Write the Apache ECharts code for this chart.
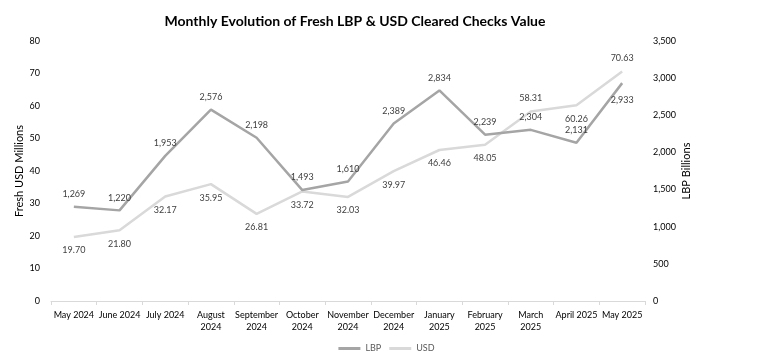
<!DOCTYPE html>
<html><head><meta charset="utf-8">
<script src="https://cdn.jsdelivr.net/npm/echarts@6/dist/echarts.min.js"></script>
<style>html,body{margin:0;padding:0;background:#fff}#c{width:773px;height:355px}</style>
</head><body><div id="c"></div>
<script>
const categories = ['May 2024','June 2024','July 2024','August\n2024','September\n2024','October\n2024','November\n2024','December\n2024','January\n2025','February\n2025','March\n2025','April 2025','May 2025'];
const lbpValues = [1269, 1220, 1953, 2576, 2198, 1493, 1610, 2389, 2834, 2239, 2304, 2131, 2933];
const usdValues = [19.70, 21.80, 32.17, 35.95, 26.81, 33.72, 32.03, 39.97, 46.46, 48.05, 58.31, 60.26, 70.63];
const leftTicks = {min: 0, max: 80, interval: 10};
const rightTicks = {min: 0, max: 3500, interval: 500};

// label placement overrides (style only)
const lbpLabelPos = {12: 'bottom'};
const usdLabelPos = {10: 'top', 12: 'top'};

const fontFam = 'Lato, "Open Sans", sans-serif';
const fmt = v => v.toLocaleString('en-US');

const chart = echarts.init(document.getElementById('c'), null, {renderer: 'canvas'});
chart.setOption({
  animation: false,
  textStyle: {fontFamily: fontFam},
  title: {
    text: 'Monthly Evolution of Fresh LBP & USD Cleared Checks Value',
    left: 350, top: 9, textAlign: 'center',
    textStyle: {fontFamily: fontFam, fontSize: 14, fontWeight: 'bold', color: '#000'}
  },
  grid: {left: 51, right: 128, top: 41, bottom: 54, containLabel: false},
  legend: {
    bottom: -3, left: 'center', itemGap: 8, itemWidth: 22, itemHeight: 3,
    textStyle: {fontSize: 9, color: '#595959', fontFamily: fontFam},
    data: [{name: 'LBP', icon: 'rect'}, {name: 'USD', icon: 'rect'}]
  },
  xAxis: {
    type: 'category', data: categories, boundaryGap: true,
    axisLine: {lineStyle: {color: '#D9D9D9', width: 1}},
    axisTick: {show: true, alignWithLabel: false, length: 4, lineStyle: {color: '#D9D9D9'}},
    axisLabel: {interval: 0, fontSize: 9, color: '#000', lineHeight: 12, margin: 8, fontFamily: fontFam}
  },
  yAxis: [
    {
      type: 'value', min: leftTicks.min, max: leftTicks.max, interval: leftTicks.interval,
      name: 'Fresh USD Millions', nameLocation: 'middle', nameGap: 26, nameRotate: 90,
      nameMoveOverlap: false,
      nameTextStyle: {fontSize: 11, color: '#000', fontFamily: fontFam},
      axisLine: {show: false}, axisTick: {show: false}, splitLine: {show: false},
      axisLabel: {fontSize: 9, color: '#000', margin: 11, fontFamily: fontFam}
    },
    {
      type: 'value', min: rightTicks.min, max: rightTicks.max, interval: rightTicks.interval,
      name: 'LBP Billions', nameLocation: 'middle', nameGap: 36, nameRotate: 90,
      nameMoveOverlap: false,
      nameTextStyle: {fontSize: 11, color: '#000', fontFamily: fontFam},
      axisLine: {show: false}, axisTick: {show: false}, splitLine: {show: false},
      axisLabel: {fontSize: 9, color: '#000', margin: 8, formatter: fmt, fontFamily: fontFam}
    }
  ],
  series: [
    {
      name: 'LBP', type: 'line', yAxisIndex: 1, showSymbol: true, symbol: 'circle', symbolSize: 0,
      lineStyle: {color: '#A5A5A5', width: 2.5}, itemStyle: {color: '#A5A5A5'},
      data: lbpValues.map((v, i) => ({
        value: v,
        label: {show: true, position: lbpLabelPos[i] || 'top', distance: lbpLabelPos[i] ? 12 : 8}
      })),
      label: {show: true, fontSize: 9, color: '#404040', formatter: p => fmt(p.value), fontFamily: fontFam},
      z: 3
    },
    {
      name: 'USD', type: 'line', yAxisIndex: 0, showSymbol: true, symbol: 'circle', symbolSize: 0,
      lineStyle: {color: '#D9D9D9', width: 2.5}, itemStyle: {color: '#D9D9D9'},
      data: usdValues.map((v, i) => ({
        value: v,
        label: {show: true, position: usdLabelPos[i] || 'bottom', distance: 9}
      })),
      label: {show: true, fontSize: 9, color: '#404040', formatter: p => p.value.toFixed(2), fontFamily: fontFam},
      z: 2
    }
  ]
});
</script>
</body></html>
